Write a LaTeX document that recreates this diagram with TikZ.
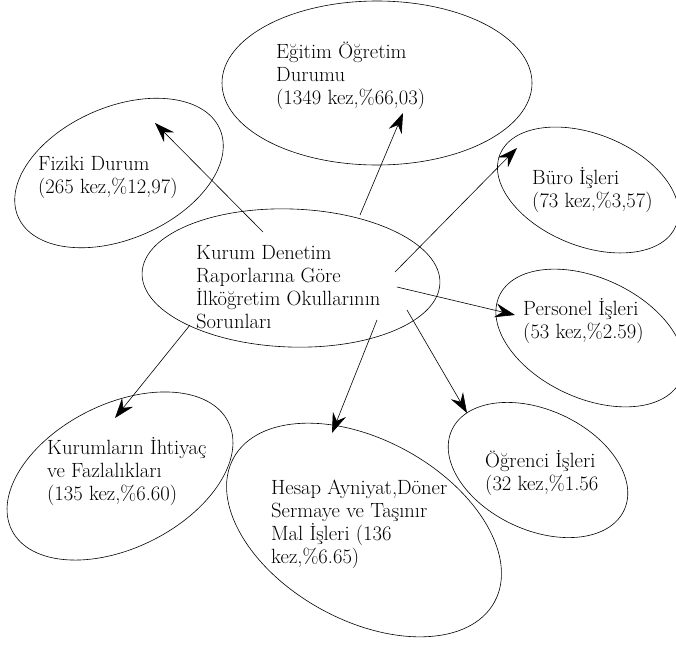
\documentclass[tikz,border=0pt]{standalone}
\usepackage{fontspec}
\usetikzlibrary{arrows.meta}
\begin{document}
\begin{tikzpicture}[x=1pt,y=-1pt,
  lbl/.style={align=left, anchor=base west, inner sep=0pt, font=\fontsize{20.6}{22.7}\selectfont},
  oval/.style={line width=0.6pt},
  arr/.style={line width=0.6pt, -{Stealth[length=20pt,width=14pt,inset=7pt]}}]
\useasboundingbox (0,0) rectangle (676,646);
% ellipses
\draw[oval, rotate around={-2:(291,278)}] (291,278) ellipse [x radius=149, y radius=69];
\draw[oval] (377,83) ellipse [x radius=155, y radius=82];
\draw[oval, rotate around={-22:(588,190)}] (588,190) ellipse [x radius=95, y radius=56];
\draw[oval, rotate around={-25:(590,338)}] (590,338) ellipse [x radius=100, y radius=60];
\draw[oval, rotate around={-25:(538,470)}] (538,470) ellipse [x radius=95, y radius=60];
\draw[oval, rotate around={-29:(364,530)}] (364,530) ellipse [x radius=149, y radius=90];
\draw[oval, rotate around={26.5:(120,476)}] (120,476) ellipse [x radius=121, y radius=72];
\draw[oval, rotate around={23.5:(119,173)}] (119,173) ellipse [x radius=110, y radius=66];
% texts (anchor = baseline of last line)
\node[lbl] (cent) at (196,328) {Kurum Denetim\\Raporlarına Göre\\İlköğretim Okullarının\\Sorunları};
\node[lbl] (egt) at (276,104) {Eğitim Öğretim\\Durumu\\(1349 kez,\%66,03)};
\node[lbl] (fiz) at (38,193) {Fiziki Durum\\(265 kez,\%12,97)};
\node[lbl] (buro) at (532,207) {Büro İşleri\\(73 kez,\%3,57)};
\node[lbl] (pers) at (523,338) {Personel İşleri\\(53 kez,\%2.59)};
\node[lbl] (ogr) at (485,490) {Öğrenci İşleri\\(32 kez,\%1.56};
\node[lbl] (kur) at (47,500) {Kurumların İhtiyaç\\ve Fazlalıkları\\(135 kez,\%6.60)};
\node[lbl] (hes) at (271,563) {Hesap Ayniyat,Döner\\Sermaye ve Taşınır\\Mal İşleri (136\\kez,\%6.65)};
% connector ends
\coordinate (sF) at (263,232); \coordinate (tF) at (155,123);
\coordinate (sE) at (360,215); \coordinate (tE) at (403,113);
\coordinate (sB) at (395,272); \coordinate (tB) at (517,148);
\coordinate (sP) at (397,287); \coordinate (tP) at (515,315);
\coordinate (sO) at (407,310); \coordinate (tO) at (467,413);
\coordinate (sH) at (377,320); \coordinate (tH) at (332,433);
\coordinate (sK) at (190,325); \coordinate (tK) at (115,418);
\draw[arr] (sF) -- (tF);
\draw[arr] (sE) -- (tE);
\draw[arr] (sB) -- (tB);
\draw[arr] (sP) -- (tP);
\draw[arr] (sO) -- (tO);
\draw[arr] (sH) -- (tH);
\draw[arr] (sK) -- (tK);
\end{tikzpicture}
\end{document}
